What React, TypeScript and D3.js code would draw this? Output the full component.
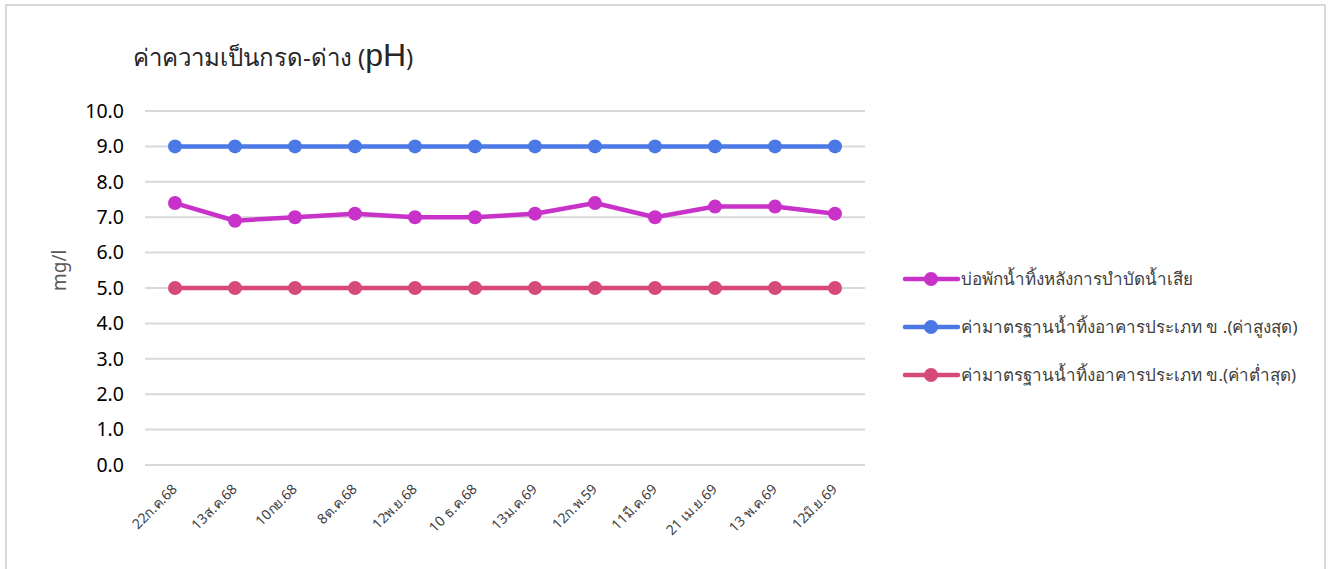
import React from "react";
import * as d3 from "d3";

const categories = ["22ก.ค.68", "13ส.ค.68", "10กย.68", "8ต.ค.68", "12พ.ย.68", "10 ธ.ค.68", "13ม.ค.69", "12ก.พ.59", "11มี.ค.69", "21 เม.ย.69", "13 พ.ค.69", "12มิ.ย.69"];
const effluent = [7.4, 6.9, 7.0, 7.1, 7.0, 7.0, 7.1, 7.4, 7.0, 7.3, 7.3, 7.1];
const stdMax = [9, 9, 9, 9, 9, 9, 9, 9, 9, 9, 9, 9];
const stdMin = [5, 5, 5, 5, 5, 5, 5, 5, 5, 5, 5, 5];
const yTicks = [0, 1, 2, 3, 4, 5, 6, 7, 8, 9, 10];
const seriesNames = [
  "บ่อพักน้ำทิ้งหลังการบำบัดน้ำเสีย",
  "ค่ามาตรฐานน้ำทิ้งอาคารประเภท ข .(ค่าสูงสุด)",
  "ค่ามาตรฐานน้ำทิ้งอาคารประเภท ข.(ค่าต่ำสุด)",
];
const colors = ["#C832C8", "#4A78E4", "#D64A78"];

const W = 1335;
const H = 569;
const FONT = "'Noto Sans', 'DejaVu Sans', sans-serif";

export default function App() {
  const x = d3.scaleBand().domain(categories).range([145, 865]);
  const y = d3.scaleLinear().domain([0, 10]).range([465, 111]);
  const cx = (c: string) => (x(c) as number) + x.bandwidth() / 2;
  const line = d3
    .line<number>()
    .x((_, i) => cx(categories[i]))
    .y((d) => y(d));
  const data = [effluent, stdMax, stdMin];
  const drawOrder = [1, 2, 0];

  return (
    <svg width={W} height={H} style={{ position: "absolute", left: 0, top: 0, fontFamily: FONT }}>
      <rect x={0} y={0} width={W} height={H} fill="#fff" />
      <rect x={6} y={5} width={1319} height={H + 10} fill="none" stroke="#d9d9d9" strokeWidth={2} />
      <text x={133} y={66} fontSize={24} fill="#262626">
        ค่าความเป็นกรด-ด่าง (<tspan fontSize={32} fontFamily="'Liberation Sans', Arial, sans-serif">pH</tspan>)
      </text>
      {yTicks.map((t) => (
        <g key={t}>
          <line x1={145} x2={865} y1={y(t)} y2={y(t)} stroke="#d9d9d9" strokeWidth={2} />
          <text x={124} y={y(t)} dy="0.35em" textAnchor="end" fontSize={19.5} fill="#000">
            {t.toFixed(1)}
          </text>
        </g>
      ))}
      <text transform={`translate(66,${y(5.5)}) rotate(-90)`} textAnchor="middle" fontSize={19} fill="#595959">
        mg/l
      </text>
      {categories.map((c) => (
        <text
          key={c}
          transform={`translate(${cx(c) + 3},${490}) rotate(-45)`}
          textAnchor="end"
          fontSize={14}
          fill="#404040"
        >
          {c}
        </text>
      ))}
      {drawOrder.map((si) => (
        <g key={si}>
          <path d={line(data[si]) || ""} fill="none" stroke={colors[si]} strokeWidth={4.5} strokeLinejoin="round" />
          {data[si].map((v, i) => (
            <circle key={i} cx={cx(categories[i])} cy={y(v)} r={7} fill={colors[si]} />
          ))}
        </g>
      ))}
      {seriesNames.map((n, i) => {
        const ly = 279 + i * 48;
        return (
          <g key={n}>
            <line x1={905} x2={958} y1={ly} y2={ly} stroke={colors[i]} strokeWidth={4.5} strokeLinecap="round" />
            <circle cx={931} cy={ly} r={7} fill={colors[i]} />
            <text x={961} y={ly} dy="0.35em" fontSize={17} fill="#404040">
              {n}
            </text>
          </g>
        );
      })}
    </svg>
  );
}
